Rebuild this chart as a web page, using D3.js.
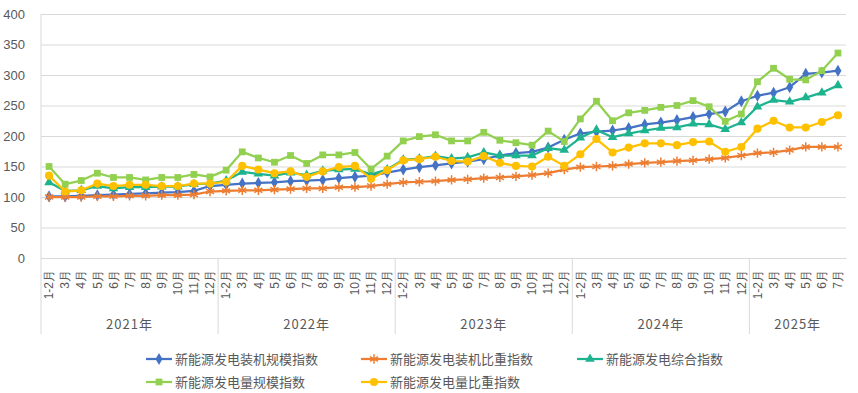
<!DOCTYPE html>
<html>
<head>
<meta charset="utf-8">
<script src="https://cdn.jsdelivr.net/npm/d3@7"></script>
<style>
  body { margin: 0; background: #fff; }
  svg { display: block; font-family: "Noto Sans CJK SC", "Noto Sans", sans-serif; }
</style>
</head>
<body>
<svg id="chart"></svg>
<script>
// years and months on the category axis
const years = ["2021年", "2022年", "2023年", "2024年", "2025年"];
const fullYearMonths = ["1-2月", "3月", "4月", "5月", "6月", "7月", "8月", "9月", "10月", "11月", "12月"];
const lastYearMonths = ["1-2月", "3月", "4月", "5月", "6月", "7月"];
const yTicks = [0, 50, 100, 150, 200, 250, 300, 350, 400];

// series values
const installScale = [101, 101, 102, 103, 104, 105, 106, 107, 108, 110, 118,
  120, 122, 123, 124, 126, 127, 128, 131, 133, 135, 140,
  145, 149, 152, 155, 158, 162, 168, 172, 174, 181, 194,
  204, 207, 209, 213, 219, 222, 226, 231, 236, 240, 257,
  266, 271, 280, 302, 304, 307];
const installShare = [100, 100, 100, 101, 101, 102, 102, 103, 103, 104, 109,
  110, 111, 111, 112, 113, 114, 114, 116, 116, 118, 121,
  124, 125, 126, 128, 129, 131, 132, 134, 136, 139, 145,
  149, 150, 151, 154, 156, 157, 159, 160, 162, 164, 168,
  172, 173, 177, 182, 182, 182];
const composite = [124, 110, 111, 118, 114, 116, 116, 117, 117, 121, 122,
  127, 141, 138, 135, 140, 136, 143, 145, 146, 137, 145,
  161, 163, 167, 163, 165, 173, 168, 168, 168, 180, 177,
  197, 210, 198, 204, 209, 213, 214, 220, 219, 211, 222,
  248, 259, 256, 263, 271, 283];
const genScale = [150, 121, 127, 139, 132, 132, 128, 132, 132, 137, 133,
  144, 174, 164, 157, 168, 155, 169, 169, 173, 146, 167,
  192, 199, 202, 192, 192, 206, 193, 189, 185, 208, 191,
  228, 257, 225, 238, 242, 247, 250, 258, 248, 224, 236,
  289, 311, 293, 292, 307, 336];
const genShare = [135, 109, 111, 122, 118, 120, 120, 118, 118, 122, 122,
  125, 151, 145, 139, 142, 133, 142, 149, 151, 130, 144,
  160, 162, 166, 159, 158, 167, 156, 151, 150, 166, 151,
  170, 195, 173, 181, 188, 188, 185, 190, 191, 174, 182,
  212, 225, 214, 214, 223, 234];

const seriesNames = ["新能源发电装机规模指数", "新能源发电装机比重指数", "新能源发电综合指数", "新能源发电量规模指数", "新能源发电量比重指数"];
const seriesValues = [installScale, installShare, composite, genScale, genShare];
const colors = ["#4472C4", "#ED7D31", "#1DB38E", "#92D050", "#FFC000"];
const markers = ["diamond", "star", "triangle", "square", "circle"];

// build category list
const categories = [];
years.forEach((y, yi) => {
  const months = yi === years.length - 1 ? lastYearMonths : fullYearMonths;
  months.forEach(m => categories.push({ year: y, month: m }));
});

const width = 858, height = 393;
const margin = { top: 14, bottom: 135, left: 41, right: 12 };
const textColor = "#595959";

const svg = d3.select("#chart")
  .attr("width", width)
  .attr("height", height);

const x = d3.scaleBand()
  .domain(d3.range(categories.length))
  .range([margin.left, width - margin.right]);

const y = d3.scaleLinear()
  .domain([0, 400])
  .range([height - margin.bottom, margin.top]);

const bottom = height - margin.bottom;

// gridlines + y labels
const yAxis = svg.append("g")
  .attr("transform", `translate(${margin.left},0)`)
  .call(d3.axisLeft(y).tickValues(yTicks).tickSize(-(width - margin.left - margin.right)).tickPadding(16));
yAxis.select(".domain").remove();
yAxis.selectAll("line").attr("stroke", "#d9d9d9");
yAxis.selectAll("text")
  .attr("fill", textColor)
  .style("font-size", "13px");

// left axis line
svg.append("line")
  .attr("x1", margin.left).attr("x2", margin.left)
  .attr("y1", margin.top).attr("y2", 334)
  .attr("stroke", "#d9d9d9");

// month labels
const xAxis = svg.append("g")
  .attr("transform", `translate(0,${bottom})`)
  .call(d3.axisBottom(x).tickSize(0).tickFormat(i => categories[i].month));
xAxis.select(".domain").attr("stroke", "#d9d9d9");
xAxis.selectAll("text")
  .attr("transform", "rotate(-90)")
  .attr("x", -12)
  .attr("y", 0)
  .attr("dy", "0.35em")
  .attr("text-anchor", "end")
  .attr("fill", textColor)
  .style("font-size", "12px");

// year separators and labels
let start = 0;
years.forEach((yr, yi) => {
  const n = yi === years.length - 1 ? lastYearMonths.length : fullYearMonths.length;
  const x0 = x(start);
  const x1 = x(start + n - 1) + x.bandwidth();
  if (yi < years.length - 1) {
    svg.append("line")
      .attr("x1", x1).attr("x2", x1)
      .attr("y1", bottom).attr("y2", 334)
      .attr("stroke", "#d9d9d9");
  }
  svg.append("text")
    .attr("x", (x0 + x1) / 2)
    .attr("y", 329)
    .attr("text-anchor", "middle")
    .attr("fill", textColor)
    .style("font-size", "13px")
    .style("letter-spacing", "1px")
    .text(yr);
  start += n;
});

// marker drawing
function drawMarker(g, type, color) {
  if (type === "diamond") {
    g.append("path").attr("d", d3.symbol(d3.symbolDiamond, 42)()).attr("fill", color);
  } else if (type === "square") {
    g.append("path").attr("d", d3.symbol(d3.symbolSquare, 46)()).attr("fill", color);
  } else if (type === "circle") {
    g.append("path").attr("d", d3.symbol(d3.symbolCircle, 52)()).attr("fill", color);
  } else if (type === "triangle") {
    g.append("path").attr("d", d3.symbol(d3.symbolTriangle, 40)()).attr("fill", color);
  } else {
    g.append("path").attr("d", d3.symbol(d3.symbolAsterisk, 60)())
      .attr("fill", "none").attr("stroke", color).attr("stroke-width", 1.5);
  }
}

const line = d3.line()
  .x((d, i) => x(i) + x.bandwidth() / 2)
  .y(d => y(d));

seriesValues.forEach((vals, si) => {
  svg.append("path")
    .datum(vals)
    .attr("fill", "none")
    .attr("stroke", colors[si])
    .attr("stroke-width", 2.25)
    .attr("stroke-linejoin", "round")
    .attr("d", line);

  vals.forEach((v, i) => {
    const g = svg.append("g")
      .attr("transform", `translate(${x(i) + x.bandwidth() / 2},${y(v)})`);
    drawMarker(g, markers[si], colors[si]);
  });
});

// legend
const legendPos = [[146, 359], [361, 359], [577, 359], [146, 382], [361, 382]];
seriesNames.forEach((name, si) => {
  const [lx, ly] = legendPos[si];
  const g = svg.append("g").attr("transform", `translate(${lx},${ly})`);
  g.append("line")
    .attr("x1", 0).attr("x2", 26)
    .attr("y1", 0).attr("y2", 0)
    .attr("stroke", colors[si])
    .attr("stroke-width", 2.25);
  drawMarker(g.append("g").attr("transform", "translate(13,0)"), markers[si], colors[si]);
  g.append("text")
    .attr("x", 29)
    .attr("y", 0)
    .attr("dy", "0.35em")
    .attr("fill", textColor)
    .style("font-size", "13px")
    .text(name);
});
</script>
</body>
</html>
